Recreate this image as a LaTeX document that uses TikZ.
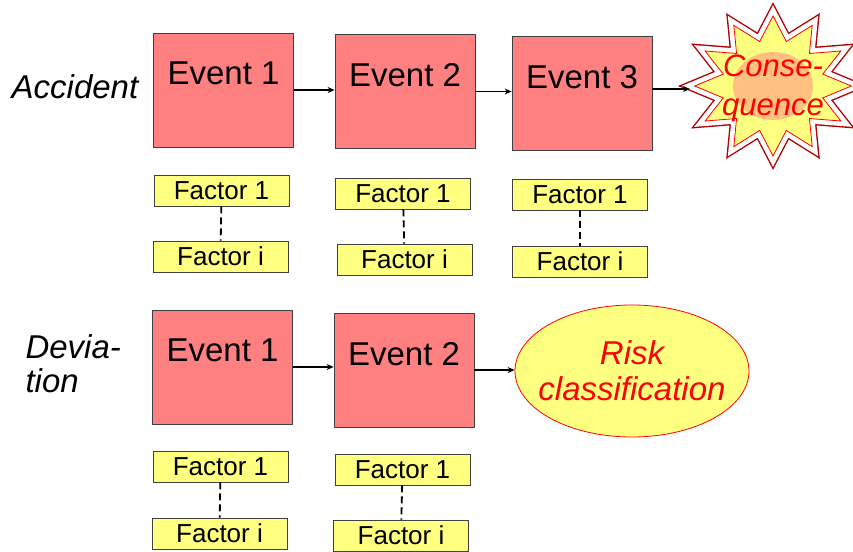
\documentclass[tikz,border=0pt]{standalone}
\usepackage{fontspec}
\setmainfont{Liberation Sans}
\usetikzlibrary{shapes.geometric,arrows.meta}
\definecolor{evfill}{HTML}{FF8080}
\definecolor{facfill}{HTML}{FFFF80}
\definecolor{conscore}{HTML}{FFC080}
\definecolor{boxline}{HTML}{404040}
\definecolor{starline}{HTML}{B00000}

\begin{document}
\begin{tikzpicture}[x=1pt,y=-1pt,
    event/.style={draw=boxline, fill=evfill, line width=0.8pt, minimum width=140pt, minimum height=114pt, inner sep=0pt},
    evtext/.style={anchor=north, yshift=-26pt, font=\fontsize{33}{38}\selectfont},
    factor/.style={draw=boxline, fill=facfill, line width=0.8pt, minimum width=135pt, minimum height=31pt, inner sep=0pt, font=\fontsize{26}{30}\selectfont},
    link/.style={dash pattern=on 7pt off 4pt, line width=1.8pt},
    arr/.style={-{Stealth[length=7pt,width=6pt]}, line width=1.1pt},
    redtext/.style={text=red, align=center, font=\fontsize{32}{38}\selectfont\itshape},
    sidetext/.style={align=left, font=\fontsize{33}{34}\selectfont\itshape}]
    \useasboundingbox (0,0) rectangle (853,551);

    % Accident row
    \node[sidetext] (acc) at (75,87) {Accident};
    \node[event, label={[evtext]north:Event 1}] (ev1) at (223.5,90) {};
    \node[event, label={[evtext]north:Event 2}] (ev2) at (405,91.5) {};
    \node[event, label={[evtext]north:Event 3}] (ev3) at (582,93) {};

    % Consequence star
    \begin{scope}[shift={(773,86)}, xscale=1.12]
        \draw[starline, double=white, double distance=10pt, line width=1.4pt]
            (0:70) \foreach \a in {15,30,...,345} { -- (\a:{70-24*mod(\a/15,2)}) } -- cycle;
        \draw[red, fill=facfill, line width=0.8pt]
            (0:70) \foreach \a in {15,30,...,345} { -- (\a:{70-24*mod(\a/15,2)}) } -- cycle;
    \end{scope}
    \fill[conscore] (773,86) ellipse [x radius=40pt, y radius=34pt];
    \node[redtext, font=\fontsize{31}{39}\selectfont\itshape] (cons) at (773,88) {Conse-\\quence};
    \coordinate (constip) at (690,89);

    % Accident factors
    \node[factor] (f11) at (221.5,190.5) {Factor 1};
    \node[factor] (f1i) at (220.5,256.5) {Factor i};
    \node[factor] (f21) at (403,193.5) {Factor 1};
    \node[factor] (f2i) at (404.5,259.5) {Factor i};
    \node[factor] (f31) at (580,194.5) {Factor 1};
    \node[factor] (f3i) at (580,261.5) {Factor i};

    % Deviation row
    \node[sidetext, anchor=west] (dev) at (22,364) {Devia-\\tion};
    \node[event, label={[evtext]north:Event 1}] (dv1) at (222.5,367) {};
    \node[event, label={[evtext]north:Event 2}] (dv2) at (404,370) {};
    \node[ellipse, draw=red, fill=facfill, line width=0.8pt, minimum width=234pt, minimum height=132pt, inner sep=0pt,
        label={[redtext, font=\fontsize{33}{36}\selectfont\itshape]center:Risk\\classification}] (risk) at (632,371) {};

    % Deviation factors
    \node[factor] (g11) at (220.5,466.5) {Factor 1};
    \node[factor] (g1i) at (219.5,533.5) {Factor i};
    \node[factor] (g21) at (402.5,469.5) {Factor 1};
    \node[factor] (g2i) at (401,535.5) {Factor i};

    % Add arrows
    \draw[arr] (ev1.east) -- (ev1.east -| ev2.west);
    \draw[arr] (ev2.east) -- (ev2.east -| ev3.west);
    \draw[arr] (ev3.east |- constip) -- (constip);
    \draw[arr] (dv1.east) -- (dv1.east -| dv2.west);
    \draw[arr] (dv2.east) -- (dv2.east -| risk.west);

    % Dashed links
    \draw[link] (f11) -- (f1i);
    \draw[link] (f21) -- (f2i);
    \draw[link] (f31) -- (f3i);
    \draw[link] (g11) -- (g1i);
    \draw[link] (g21) -- (g2i);
\end{tikzpicture}
\end{document}
